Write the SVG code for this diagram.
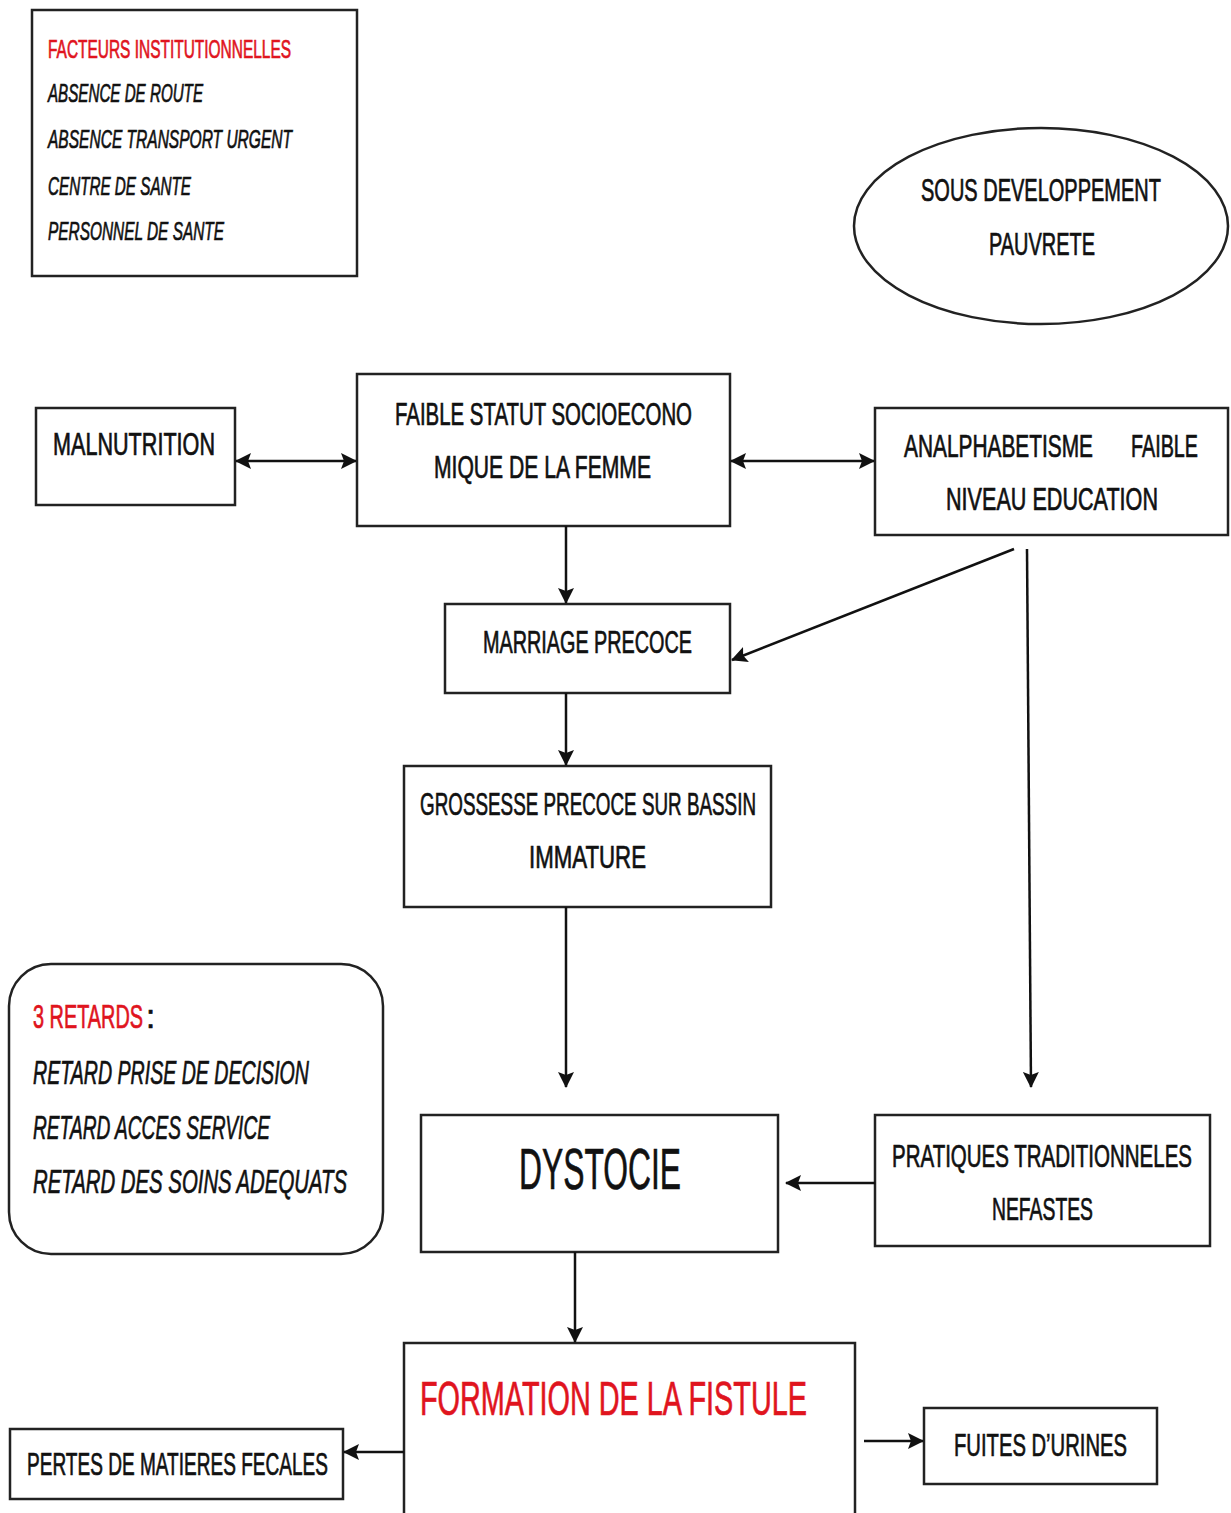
<svg xmlns="http://www.w3.org/2000/svg" width="1231" height="1513" viewBox="0 0 1231 1513">
<defs>
<marker id="ah" markerWidth="16" markerHeight="16" refX="15" refY="8" orient="auto-start-reverse" markerUnits="userSpaceOnUse">
<path d="M0,0 L16,8 L0,16 L3,8 Z" fill="#111"/>
</marker>
</defs>
<style>
.box{fill:#fff;stroke:#222;stroke-width:2.5}
.t{font-family:"Liberation Sans",Arial,sans-serif;fill:#111;stroke:#111;stroke-width:0.7}
.m{font-size:31px}
.i{font-style:italic}
.red{fill:#e0141e;stroke:#e0141e}
.c{stroke:#111;stroke-width:2.5;fill:none}
</style>
<rect width="1231" height="1513" fill="#fff"/>

<g id="facteurs">
<rect class="box" x="32" y="10" width="325" height="266"/>
<text class="t red" x="48" y="58" font-size="25" textLength="243" lengthAdjust="spacingAndGlyphs">FACTEURS INSTITUTIONNELLES</text>
<text class="t i" x="48" y="102" font-size="25" textLength="155" lengthAdjust="spacingAndGlyphs">ABSENCE DE ROUTE</text>
<text class="t i" x="48" y="148" font-size="25" textLength="244" lengthAdjust="spacingAndGlyphs">ABSENCE TRANSPORT  URGENT</text>
<text class="t i" x="48" y="195" font-size="25" textLength="143" lengthAdjust="spacingAndGlyphs">CENTRE DE SANTE</text>
<text class="t i" x="48" y="240" font-size="25" textLength="176" lengthAdjust="spacingAndGlyphs">PERSONNEL  DE SANTE</text>
</g>

<g id="sous-dev">
<ellipse class="box" cx="1041" cy="226" rx="187" ry="98"/>
<text class="t m" x="921" y="201" textLength="240" lengthAdjust="spacingAndGlyphs">SOUS DEVELOPPEMENT</text>
<text class="t m" x="989" y="255" textLength="106" lengthAdjust="spacingAndGlyphs">PAUVRETE</text>
</g>

<g id="malnutrition">
<rect class="box" x="36" y="408" width="199" height="97"/>
<text class="t m" x="53" y="455" textLength="162" lengthAdjust="spacingAndGlyphs">MALNUTRITION</text>
</g>

<g id="faible-statut">
<rect class="box" x="357" y="374" width="373" height="152"/>
<text class="t m" x="395" y="425" textLength="297" lengthAdjust="spacingAndGlyphs">FAIBLE STATUT SOCIOECONO</text>
<text class="t m" x="434" y="478" textLength="217" lengthAdjust="spacingAndGlyphs">MIQUE DE LA FEMME</text>
</g>

<g id="analphabetisme">
<rect class="box" x="875" y="408" width="353" height="127"/>
<text class="t m" x="904" y="457" textLength="189" lengthAdjust="spacingAndGlyphs">ANALPHABETISME</text>
<text class="t m" x="1131" y="457" textLength="67" lengthAdjust="spacingAndGlyphs">FAIBLE</text>
<text class="t m" x="946" y="510" textLength="212" lengthAdjust="spacingAndGlyphs">NIVEAU  EDUCATION</text>
</g>

<g id="marriage">
<rect class="box" x="445" y="604" width="285" height="89"/>
<text class="t m" x="483" y="653" textLength="209" lengthAdjust="spacingAndGlyphs">MARRIAGE PRECOCE</text>
</g>

<g id="grossesse">
<rect class="box" x="404" y="766" width="367" height="141"/>
<text class="t m" x="420" y="815" textLength="336" lengthAdjust="spacingAndGlyphs">GROSSESSE PRECOCE SUR BASSIN</text>
<text class="t m" x="529" y="868" textLength="117" lengthAdjust="spacingAndGlyphs">IMMATURE</text>
</g>

<g id="retards">
<rect class="box" x="9" y="964" width="374" height="290" rx="42"/>
<text class="t red" x="33" y="1028" font-size="33" textLength="110" lengthAdjust="spacingAndGlyphs">3 RETARDS</text>
<text class="t" x="146" y="1028" font-size="33">:</text>
<text class="t i" x="33" y="1084" font-size="33" textLength="276" lengthAdjust="spacingAndGlyphs">RETARD PRISE DE DECISION</text>
<text class="t i" x="33" y="1139" font-size="33" textLength="237" lengthAdjust="spacingAndGlyphs">RETARD ACCES SERVICE</text>
<text class="t i" x="33" y="1193" font-size="33" textLength="314" lengthAdjust="spacingAndGlyphs">RETARD DES  SOINS ADEQUATS</text>
</g>

<g id="dystocie">
<rect class="box" x="421" y="1115" width="357" height="137"/>
<text class="t" x="519" y="1189" font-size="58" stroke-width="1" textLength="162" lengthAdjust="spacingAndGlyphs">DYSTOCIE</text>
</g>

<g id="pratiques">
<rect class="box" x="875" y="1115" width="335" height="131"/>
<text class="t m" x="892" y="1167" textLength="300" lengthAdjust="spacingAndGlyphs">PRATIQUES TRADITIONNELES</text>
<text class="t m" x="992" y="1220" textLength="101" lengthAdjust="spacingAndGlyphs">NEFASTES</text>
</g>

<g id="formation">
<rect class="box" x="404" y="1343" width="451" height="180"/>
<text class="t red" x="420" y="1415" font-size="48" stroke-width="0.9" textLength="387" lengthAdjust="spacingAndGlyphs">FORMATION DE LA FISTULE</text>
</g>

<g id="pertes">
<rect class="box" x="10" y="1429" width="333" height="70"/>
<text class="t m" x="27" y="1475" textLength="301" lengthAdjust="spacingAndGlyphs">PERTES DE MATIERES FECALES</text>
</g>

<g id="fuites">
<rect class="box" x="924" y="1408" width="233" height="76"/>
<text class="t m" x="954" y="1456" textLength="173" lengthAdjust="spacingAndGlyphs">FUITES D’URINES</text>
</g>

<g id="connectors">
<line class="c" x1="236" y1="461" x2="356" y2="461" marker-start="url(#ah)" marker-end="url(#ah)" stroke-width="3"/>
<line class="c" x1="731" y1="461" x2="874" y2="461" marker-start="url(#ah)" marker-end="url(#ah)" stroke-width="3"/>
<line class="c" x1="566" y1="526" x2="566" y2="603" marker-end="url(#ah)" stroke-width="2"/>
<line class="c" x1="1014" y1="549" x2="732" y2="660" marker-end="url(#ah)" stroke-width="2.5"/>
<line class="c" x1="1027" y1="549" x2="1031" y2="1087" marker-end="url(#ah)" stroke-width="2"/>
<line class="c" x1="566" y1="693" x2="566" y2="765" marker-end="url(#ah)" stroke-width="2"/>
<line class="c" x1="566" y1="907" x2="566" y2="1087" marker-end="url(#ah)" stroke-width="2"/>
<line class="c" x1="875" y1="1183" x2="786" y2="1183" marker-end="url(#ah)" stroke-width="3"/>
<line class="c" x1="575" y1="1252" x2="575" y2="1342" marker-end="url(#ah)" stroke-width="2"/>
<line class="c" x1="404" y1="1452" x2="344" y2="1452" marker-end="url(#ah)" stroke-width="3"/>
<line class="c" x1="864" y1="1441" x2="923" y2="1441" marker-end="url(#ah)" stroke-width="3"/>
</g>
</svg>
